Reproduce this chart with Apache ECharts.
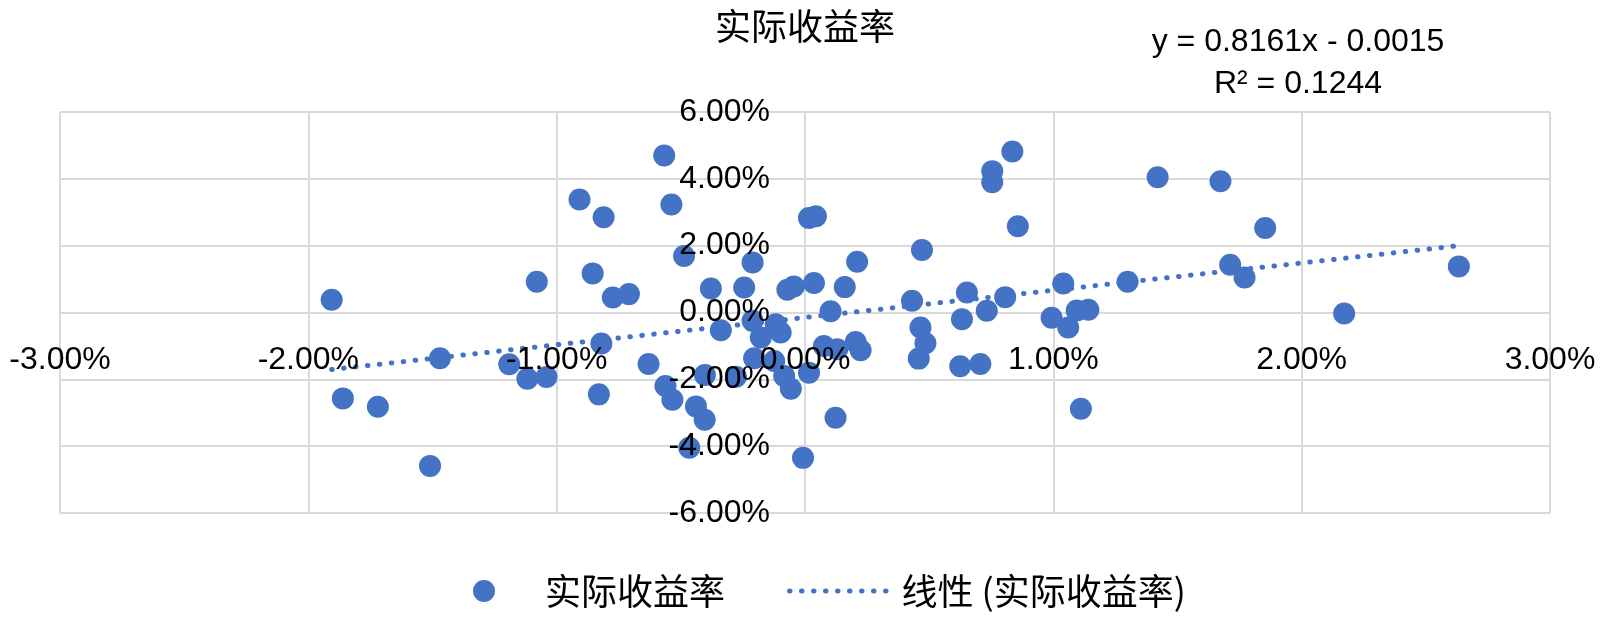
<!DOCTYPE html>
<html>
<head>
<meta charset="utf-8">
<title>实际收益率</title>
<script src="https://cdn.jsdelivr.net/npm/echarts@6/dist/echarts.min.js"></script>
<style>
  html, body { margin: 0; padding: 0; background: #fff; }
  #main { width: 1600px; height: 620px; }
</style>
</head>
<body>
<div id="main"></div>
<script>
// 市场收益率 (x, %)
var marketReturn = [
  -1.906, -1.861, -1.720, -1.470, -1.510, -1.191, -1.118, -1.080, -1.041, -0.908,
  -0.855, -0.830, -0.820, -0.811, -0.774, -0.709, -0.630, -0.567, -0.562, -0.538,
  -0.534, -0.487, -0.466, -0.439, -0.404, -0.403, -0.379, -0.339, -0.278, -0.245,
  -0.211, -0.211, -0.205, -0.178, -0.124, -0.118, -0.098, -0.084, -0.071, -0.057,
  -0.045, -0.008, 0.016, 0.016, 0.044, 0.036, 0.076, 0.103, 0.123, 0.130,
  0.160, 0.204, 0.210, 0.224, 0.431, 0.458, 0.465, 0.471, 0.485, 0.625,
  0.632, 0.652, 0.706, 0.732, 0.754, 0.754, 0.806, 0.835, 0.857, 0.993,
  1.040, 1.060, 1.094, 1.111, 1.141, 1.299, 1.420, 1.673, 1.712, 1.770,
  1.853, 2.171, 2.633
];
// 实际收益率 (y, %)
var actualReturn = [
  0.38, -2.57, -2.82, -1.37, -4.59, -1.55, -1.98, 0.92, -1.93, 3.38,
  1.17, -2.45, -0.93, 2.85, 0.45, 0.55, -1.54, 4.70, -2.20, 3.23,
  -2.61, 1.69, -4.05, -2.81, -3.21, -1.87, 0.72, -0.53, -1.92, 0.75,
  1.50, -0.25, -1.37, -0.75, -1.45, -0.35, -0.60, -1.90, 0.68, -2.28,
  0.78, -4.35, 2.83, -1.80, 2.88, 0.88, -1.00, 0.04, -3.15, -1.10,
  0.76, -0.88, 1.52, -1.13, 0.35, -1.38, -0.45, 1.87, -0.92, -1.61,
  -0.20, 0.60, -1.54, 0.05, 4.23, 3.90, 0.46, 4.82, 2.58, -0.16,
  0.87, -0.45, 0.06, -2.88, 0.08, 0.92, 4.05, 3.93, 1.43, 1.05,
  2.53, -0.03, 1.38
];
// 趋势线 y = 0.8161x - 0.0015
var slope = 0.8161;
var intercept = -0.0015;
var eqLines = ['y = 0.8161x - 0.0015', 'R² = 0.1244'];
var seriesName = '实际收益率';
var trendName = '线性 (实际收益率)';

var blue = '#4472C4';
var cjk = 'Noto Sans CJK SC';
var num = 'Liberation Sans';

var points = [];
for (var i = 0; i < marketReturn.length; i++) {
  points.push([marketReturn[i], actualReturn[i]]);
}
var xMin = Math.min.apply(null, marketReturn);
var xMax = Math.max.apply(null, marketReturn);
// 百分数单位下的截距
var trend = [
  [xMin, slope * xMin + intercept * 100],
  [xMax, slope * xMax + intercept * 100]
];

function pct(v) { return v.toFixed(2) + '%'; }

var chart = echarts.init(document.getElementById('main'), null, { renderer: 'canvas' });

// 绘图区: 左60 右50 上112 下107 -> 0点在 (805, 312.5)
var gridBox = { left: 60, right: 50, top: 112, bottom: 107 };
var labelStyle = { fontFamily: num, fontSize: 32, color: '#000' };
var dotted = { color: blue, width: 5, type: [0.5, 11.5], cap: 'round' };

var option = {
  backgroundColor: '#fff',
  animation: false,
  title: {
    text: seriesName,
    left: 800,
    top: 3,
    textAlign: 'center',
    textStyle: { fontFamily: cjk, fontSize: 36, fontWeight: 'normal', color: '#000' }
  },
  grid: Object.assign({ containLabel: false, outerBoundsMode: 'none' }, gridBox),
  legend: {
    data: [
      { name: seriesName },
      { name: trendName, itemStyle: { opacity: 0 }, lineStyle: dotted }
    ],
    left: 468,
    top: 568,
    itemWidth: 102,
    itemHeight: 22,
    itemGap: 62,
    textStyle: { fontFamily: cjk, fontSize: 36, color: '#000', padding: [0, 0, 0, 5] }
  },
  // 第一组坐标轴只画标签(盖在点上面)，第二组画网格线
  xAxis: [
    {
      type: 'value', min: -3, max: 3, interval: 1, z: 10,
      position: 'bottom', offset: -200.5,
      axisLine: { show: false, onZero: false }, axisTick: { show: false },
      splitLine: { show: false },
      axisLabel: Object.assign({ margin: 32, formatter: pct }, labelStyle)
    },
    {
      type: 'value', min: -3, max: 3, interval: 1,
      axisLine: { show: false, onZero: false }, axisTick: { show: false }, axisLabel: { show: false },
      splitLine: { show: true, lineStyle: { color: '#D9D9D9', width: 2 } }
    }
  ],
  yAxis: [
    {
      type: 'value', min: -6, max: 6, interval: 2, z: 10,
      position: 'left', offset: -745,
      axisLine: { show: false, onZero: false }, axisTick: { show: false },
      splitLine: { show: false },
      axisLabel: Object.assign({ margin: 35, formatter: pct }, labelStyle)
    },
    {
      type: 'value', min: -6, max: 6, interval: 2,
      axisLine: { show: false, onZero: false }, axisTick: { show: false }, axisLabel: { show: false },
      splitLine: { show: true, lineStyle: { color: '#D9D9D9', width: 2 } }
    }
  ],
  graphic: [
    {
      type: 'text',
      x: 1298,
      y: 21,
      style: {
        text: eqLines.join('\n'),
        font: '32px "' + num + '"',
        fill: '#000',
        align: 'center',
        verticalAlign: 'top',
        lineHeight: 42
      }
    }
  ],
  series: [
    {
      name: seriesName,
      type: 'scatter',
      xAxisIndex: 0, yAxisIndex: 0,
      symbol: 'circle',
      symbolSize: 22,
      itemStyle: { color: blue, opacity: 1 },
      data: points,
      z: 3
    },
    {
      name: trendName,
      type: 'line',
      xAxisIndex: 0, yAxisIndex: 0,
      symbol: 'none',
      data: trend,
      lineStyle: dotted,
      itemStyle: { color: blue },
      z: 4
    }
  ]
};

chart.setOption(option);
</script>
</body>
</html>
